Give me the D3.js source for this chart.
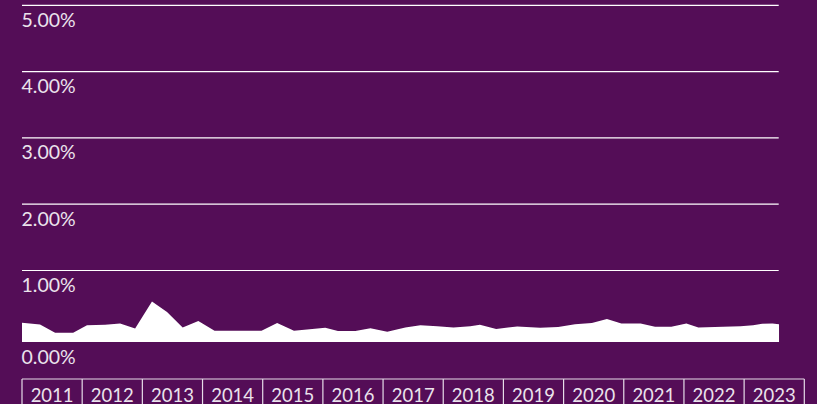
<!DOCTYPE html>
<html>
<head>
<meta charset="utf-8">
<script src="https://cdn.jsdelivr.net/npm/d3@7"></script>
<style>
  html, body { margin: 0; padding: 0; background: #540d57; }
  svg { display: block; }
  text { font-family: Lato, "Open Sans", sans-serif; }
</style>
</head>
<body>
<svg id="chart" width="817" height="404"></svg>
<script>
// ---- data ----
const dates = [2011.00, 2011.30, 2011.55, 2011.85, 2012.08, 2012.38, 2012.63, 2012.88,
  2013.16, 2013.41, 2013.67, 2013.93, 2014.20, 2014.45, 2014.72, 2014.98, 2015.24, 2015.52,
  2015.78, 2016.04, 2016.25, 2016.54, 2016.79, 2017.07, 2017.37, 2017.62, 2017.90, 2018.17,
  2018.45, 2018.61, 2018.88, 2019.23, 2019.61, 2019.91, 2020.19, 2020.47, 2020.72, 2020.96,
  2021.28, 2021.52, 2021.79, 2022.04, 2022.24, 2022.65, 2022.94, 2023.15, 2023.30, 2023.47, 2023.58];
const values = [0.27, 0.246, 0.129, 0.129, 0.236, 0.240, 0.260, 0.190,
  0.565, 0.421, 0.204, 0.292, 0.157, 0.157, 0.157, 0.157, 0.264, 0.156,
  0.178, 0.201, 0.153, 0.153, 0.192, 0.142, 0.204, 0.236, 0.222, 0.204,
  0.222, 0.243, 0.181, 0.218, 0.201, 0.211, 0.247, 0.264, 0.322, 0.260,
  0.260, 0.213, 0.213, 0.260, 0.204, 0.213, 0.222, 0.236, 0.254, 0.260, 0.250];
const years = [2011, 2012, 2013, 2014, 2015, 2016, 2017, 2018, 2019, 2020, 2021, 2022, 2023];
const yTicks = [0, 1, 2, 3, 4, 5];
const yTickLabels = ["0.00%", "1.00%", "2.00%", "3.00%", "4.00%", "5.00%"];

const data = dates.map((d, i) => ({ t: d, v: values[i] }));

const svg = d3.select("#chart");
const bg = "#540d57";
svg.append("rect").attr("width", 817).attr("height", 404).attr("fill", bg);

const x = d3.scaleLinear().domain([2011, 2024]).range([22, 804.3]);
const y = d3.scaleLinear().domain([0, 1, 5]).range([342, 270.5, 5.3]);

// gridlines + labels
const grid = svg.append("g");
grid.selectAll("line").data(yTicks.filter(d => d > 0)).join("line")
  .attr("x1", 22).attr("x2", 778.7)
  .attr("y1", d => y(d)).attr("y2", d => y(d))
  .attr("stroke", "#ffffff").attr("stroke-width", 1.2);
grid.selectAll("text").data(yTicks).join("text")
  .attr("x", 21.5).attr("y", d => y(d) + 21.5)
  .attr("fill", "#ebe3ec").attr("font-size", 19.5)
  .text((d, i) => yTickLabels[i]);

// area
const area = d3.area().x(d => x(d.t)).y0(y(0)).y1(d => y(d.v));
svg.append("path").datum(data).attr("d", area).attr("fill", "#ffffff");

// x axis boxes
const ax = svg.append("g");
ax.append("line").attr("x1", x(2011)).attr("x2", x(2024))
  .attr("y1", 379).attr("y2", 379).attr("stroke", "#e6dce8").attr("stroke-width", 1.2);
ax.selectAll("line.tick").data(years.concat([2024])).join("line")
  .attr("class", "tick")
  .attr("x1", d => x(d)).attr("x2", d => x(d))
  .attr("y1", 379).attr("y2", 404)
  .attr("stroke", "#e6dce8").attr("stroke-width", 1.2);
ax.selectAll("text").data(years).join("text")
  .attr("x", d => x(d + 0.5)).attr("y", 401.5)
  .attr("text-anchor", "middle")
  .attr("fill", "#ebe3ec").attr("font-size", 18.5)
  .text(d => d);
</script>
</body>
</html>
